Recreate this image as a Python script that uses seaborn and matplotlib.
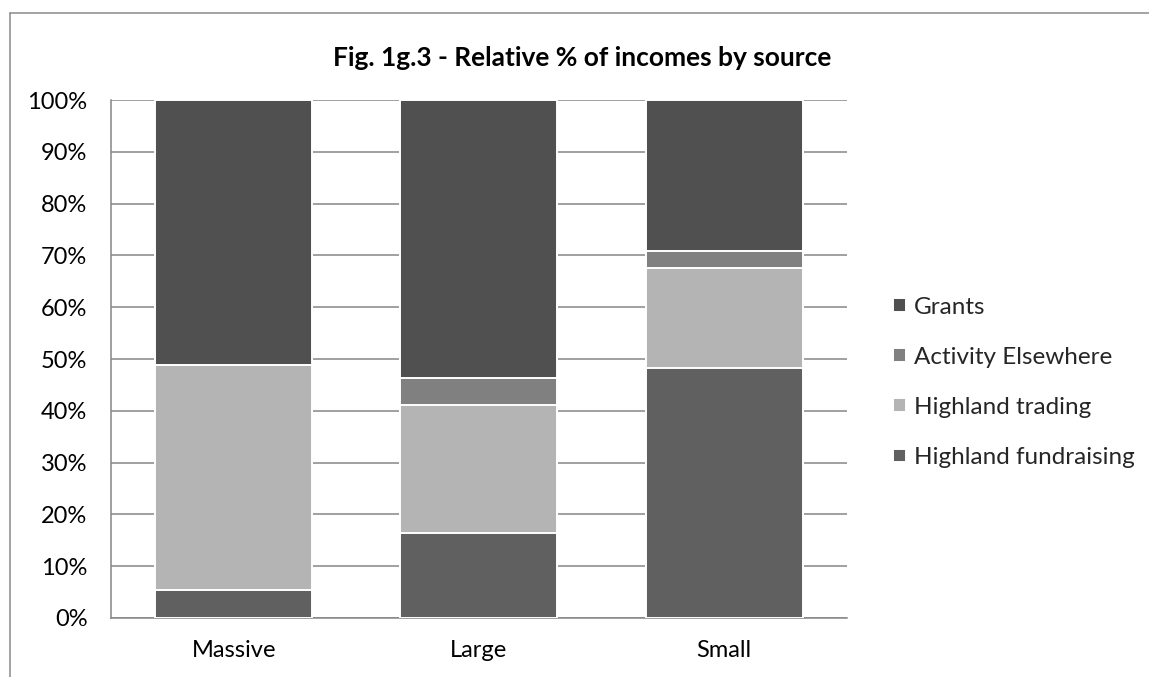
import numpy as np
import pandas as pd
import matplotlib
matplotlib.use("Agg")
import matplotlib.pyplot as plt
from matplotlib.lines import Line2D
import seaborn as sns

# Income shares (%) per organisation size
sizes = ["Massive", "Large", "Small"]
highland_fundraising = [5.4, 16.4, 48.2]
highland_trading = [43.5, 24.8, 19.4]
activity_elsewhere = [0.0, 5.1, 3.2]
grants = [51.1, 53.7, 29.2]

sources = ["Grants", "Activity Elsewhere", "Highland trading", "Highland fundraising"]
source_colors = ["#505050", "#808080", "#b4b4b4", "#606060"]
y_ticks = [0, 10, 20, 30, 40, 50, 60, 70, 80, 90, 100]
title = "Fig. 1g.3 - Relative % of incomes by source"

# Cumulative tops of each stacked segment (bottom to top)
stack = np.array([highland_fundraising, highland_trading, activity_elsewhere, grants])
tops = np.cumsum(stack, axis=0)
top_by_source = {
    "Highland fundraising": tops[0],
    "Highland trading": tops[1],
    "Activity Elsewhere": tops[2],
    "Grants": tops[3],
}
rows = []
for src in sources:
    for size, top in zip(sizes, top_by_source[src]):
        rows.append({"size": size, "source": src, "top": top})
df = pd.DataFrame(rows)

sns.set_theme(style="white")
plt.rcParams["font.family"] = ["Lato", "DejaVu Sans"]

fig = plt.figure(figsize=(11.49, 6.77), dpi=100)
ax = fig.add_axes([0.0966, 0.0872, 0.6405, 0.7650])

# Segments are drawn tallest first so each lower one sits on top of the previous
sns.barplot(
    data=df, x="size", y="top", hue="source", order=sizes,
    hue_order=sources, palette=source_colors, dodge=False,
    width=0.64, edgecolor="white", linewidth=1.4, ax=ax, zorder=3,
)

ax.set_ylim(0, 100)
ax.set_xlim(-0.5, 2.5)
ax.set_yticks(y_ticks)
ax.set_yticklabels([f"{t}%" for t in y_ticks])
ax.set_xlabel("")
ax.set_ylabel("")
ax.yaxis.grid(True, color="#868686", linewidth=1.1, zorder=0)
ax.set_axisbelow(True)
ax.tick_params(axis="y", length=0, pad=17, labelsize=17, labelcolor="black")
ax.tick_params(axis="x", length=0, pad=16, labelsize=17, labelcolor="black")
for side in ["top", "right"]:
    ax.spines[side].set_visible(False)
for side in ["left", "bottom"]:
    ax.spines[side].set_color("#868686")
    ax.spines[side].set_linewidth(1.1)

handles, labels = ax.get_legend_handles_labels()
ax.legend(
    handles, labels, loc="center left", bbox_to_anchor=(1.05, 0.455),
    frameon=False, fontsize=17.5, handlelength=0.5, handleheight=0.5,
    handletextpad=0.35, labelspacing=1.2, borderaxespad=0,
)

fig.text(0.5065, 0.914, title, ha="center", va="center",
         fontsize=19, fontweight="bold", color="black")

# Outer chart frame
frame_kw = dict(color="#8a8a8a", linewidth=1.1, transform=fig.transFigure)
fig.add_artist(Line2D([10 / 1149, 10 / 1149], [0, 1 - 13 / 677], **frame_kw))
fig.add_artist(Line2D([10 / 1149, 1], [1 - 13 / 677, 1 - 13 / 677], **frame_kw))

fig.savefig("out.png", dpi=100, facecolor="white")
